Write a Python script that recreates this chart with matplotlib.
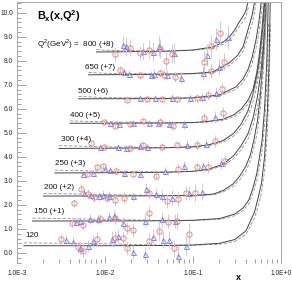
import matplotlib
matplotlib.use("Agg")
import matplotlib.pyplot as plt
import numpy as np
from matplotlib.ticker import FixedLocator, MultipleLocator, FuncFormatter, LogLocator, NullFormatter

# Q2 values and the vertical shift used for each set
q2_values = [120, 150, 200, 250, 300, 400, 500, 650, 800]
offsets = [0, 1, 2, 3, 4, 5, 6, 7, 8]

# theory curves (solid and dashed), B_x without the shift
curve_x = [
    [0.0012, 0.01, 0.05, 0.1, 0.2, 0.3, 0.4, 0.5, 0.55, 0.6, 0.65, 0.7, 0.73, 0.76],
    [0.0015, 0.01, 0.05, 0.1, 0.2, 0.3, 0.37, 0.43, 0.48, 0.53, 0.56, 0.61, 0.65, 0.69, 0.72],
    [0.002, 0.01, 0.05, 0.1, 0.17, 0.22, 0.285, 0.34, 0.4, 0.45, 0.49, 0.54, 0.58, 0.62, 0.66, 0.69],
    [0.0027, 0.01, 0.05, 0.1, 0.15, 0.22, 0.29, 0.35, 0.42, 0.48, 0.54, 0.59, 0.63, 0.66, 0.69],
    [0.003, 0.01, 0.05, 0.1, 0.15, 0.22, 0.29, 0.35, 0.42, 0.48, 0.54, 0.58, 0.62, 0.65, 0.68],
    [0.004, 0.01, 0.05, 0.1, 0.15, 0.22, 0.29, 0.35, 0.42, 0.48, 0.53, 0.56, 0.6, 0.64, 0.66],
    [0.005, 0.01, 0.05, 0.1, 0.2, 0.31, 0.37, 0.42, 0.47, 0.52, 0.56, 0.59, 0.62],
    [0.0065, 0.01, 0.05, 0.1, 0.17, 0.26, 0.32, 0.37, 0.43, 0.47, 0.5, 0.53],
    [0.008, 0.01, 0.05, 0.1, 0.17, 0.22, 0.26, 0.3, 0.33, 0.37, 0.4, 0.43],
]
curve_solid = [
    [0.30, 0.30, 0.31, 0.33, 0.40, 0.56, 0.92, 1.70, 2.30, 2.90, 4.00, 5.90, 7.80, 11.0],
    [0.33, 0.33, 0.34, 0.36, 0.43, 0.62, 0.87, 1.20, 1.70, 2.30, 2.83, 3.70, 5.00, 7.00, 9.80],
    [0.37, 0.37, 0.38, 0.39, 0.45, 0.60, 0.87, 1.20, 1.62, 2.10, 2.67, 3.50, 4.50, 5.90, 7.80, 9.50],
    [0.33, 0.34, 0.36, 0.40, 0.48, 0.70, 1.05, 1.45, 1.95, 2.60, 3.50, 4.50, 5.60, 6.80, 8.20],
    [0.35, 0.36, 0.38, 0.42, 0.50, 0.68, 0.98, 1.35, 1.90, 2.60, 3.50, 4.30, 5.30, 6.30, 7.60],
    [0.40, 0.40, 0.41, 0.43, 0.48, 0.57, 0.75, 0.98, 1.35, 1.80, 2.50, 3.10, 4.10, 5.30, 6.20],
    [0.42, 0.42, 0.43, 0.46, 0.58, 0.92, 1.25, 1.62, 2.15, 2.87, 3.60, 4.30, 5.20],
    [0.42, 0.42, 0.44, 0.47, 0.54, 0.92, 1.22, 1.58, 2.40, 2.90, 3.45, 4.20],
    [0.37, 0.37, 0.40, 0.45, 0.58, 0.78, 1.00, 1.30, 1.58, 1.85, 2.10, 2.60],
]
curve_dash = [
    [0.42, 0.38, 0.32, 0.32, 0.36, 0.48, 0.78, 1.45, 1.95, 2.50, 3.40, 5.00, 6.70, 9.50],
    [0.45, 0.40, 0.35, 0.35, 0.40, 0.55, 0.76, 1.05, 1.48, 2.00, 2.45, 3.25, 4.35, 6.10, 8.60],
    [0.48, 0.43, 0.39, 0.38, 0.42, 0.54, 0.77, 1.05, 1.42, 1.85, 2.35, 3.05, 3.95, 5.20, 6.90, 8.40],
    [0.45, 0.40, 0.37, 0.39, 0.45, 0.63, 0.93, 1.28, 1.72, 2.30, 3.05, 3.95, 4.90, 6.00, 7.30],
    [0.47, 0.42, 0.39, 0.41, 0.47, 0.61, 0.87, 1.19, 1.67, 2.28, 3.05, 3.80, 4.65, 5.55, 6.70],
    [0.50, 0.46, 0.42, 0.42, 0.45, 0.52, 0.67, 0.87, 1.19, 1.58, 2.18, 2.72, 3.60, 4.65, 5.45],
    [0.52, 0.47, 0.44, 0.45, 0.53, 0.82, 1.10, 1.43, 1.89, 2.52, 3.15, 3.78, 4.55],
    [0.52, 0.48, 0.45, 0.46, 0.50, 0.82, 1.08, 1.39, 2.10, 2.55, 3.02, 3.70],
    [0.47, 0.44, 0.41, 0.44, 0.52, 0.69, 0.88, 1.14, 1.39, 1.62, 1.85, 2.28],
]

# measured points, red circles
circ_x = [
    [0.0032, 0.0049, 0.0056, 0.0081, 0.013, 0.016, 0.018, 0.032, 0.041, 0.061, 0.090],
    [0.0042, 0.0056, 0.0088, 0.013, 0.018, 0.021, 0.032, 0.052, 0.066],
    [0.0044, 0.0054, 0.0064, 0.0075, 0.0105, 0.013, 0.0165, 0.032, 0.050, 0.067, 0.083, 0.105],
    [0.0062, 0.0081, 0.0095, 0.0135, 0.021, 0.038, 0.068, 0.112, 0.15, 0.23],
    [0.0070, 0.0098, 0.019, 0.027, 0.045, 0.066, 0.110, 0.180],
    [0.0098, 0.013, 0.019, 0.027, 0.042, 0.060, 0.135, 0.22],
    [0.018, 0.030, 0.044, 0.066, 0.110, 0.150, 0.215],
    [0.0148, 0.025, 0.042, 0.047, 0.062, 0.160, 0.225],
    [0.013, 0.019, 0.025, 0.032, 0.042, 0.049, 0.058, 0.133, 0.160, 0.203],
]
circ_y = [
    [0.58, 0.25, 0.08, 0.58, 0.62, 0.62, 0.21, 0.50, 0.92, 0.20, 0.79],
    [0.25, 0.15, 0.42, 0.45, 0.05, -0.05, 0.67, 0.30, 0.33],
    [0.08, 0.67, 0.45, 0.33, 0.30, 0.20, 0.30, 0.50, 0.17, 0.25, 0.50, 0.50],
    [0.29, 0.58, 0.60, 0.40, 0.30, 0.21, 0.50, 0.58, 0.58, 0.83],
    [0.58, 0.42, 0.35, 0.50, 0.42, 0.50, 0.50, 0.67],
    [0.45, 0.30, 0.35, 0.48, 0.46, 0.29, 0.62, 0.83],
    [0.38, 0.42, 0.42, 0.40, 0.45, 0.58, 0.83],
    [0.62, 0.40, 0.50, 0.42, 0.33, 0.58, 0.96],
    [0.29, 0.54, 0.33, 0.46, 0.50, 0.00, 0.30, -0.04, 0.62, 1.17],
]
circ_err = [
    [0.20, 0.25, 0.25, 0.30, 0.30, 0.30, 0.30, 0.35, 0.40, 0.35, 0.45],
    [0.15, 0.20, 0.20, 0.25, 0.25, 0.30, 0.30, 0.30, 0.35],
    [0.15, 0.20, 0.20, 0.20, 0.20, 0.25, 0.25, 0.25, 0.30, 0.30, 0.30, 0.35],
    [0.10, 0.12, 0.12, 0.15, 0.15, 0.15, 0.20, 0.20, 0.25, 0.25],
    [0.10, 0.10, 0.12, 0.12, 0.15, 0.15, 0.20, 0.25],
    [0.10, 0.10, 0.12, 0.12, 0.15, 0.15, 0.20, 0.25],
    [0.10, 0.12, 0.12, 0.15, 0.15, 0.20, 0.25],
    [0.15, 0.15, 0.15, 0.20, 0.20, 0.30, 0.35],
    [0.30, 0.35, 0.30, 0.40, 0.40, 0.40, 0.40, 0.45, 0.45, 0.50],
]

# measured points, blue triangles
tri_x = [
    [0.0036, 0.0043, 0.0052, 0.0064, 0.0073, 0.012, 0.014, 0.021, 0.0285, 0.035, 0.046, 0.053, 0.068, 0.083],
    [0.0047, 0.0052, 0.0068, 0.0084, 0.0112, 0.0125, 0.016, 0.0285, 0.044, 0.062],
    [0.0057, 0.0069, 0.0085, 0.0095, 0.011, 0.021, 0.029, 0.038, 0.044, 0.058, 0.090, 0.125],
    [0.0056, 0.0073, 0.010, 0.0115, 0.0165, 0.025, 0.048, 0.080, 0.130, 0.21],
    [0.0088, 0.014, 0.0175, 0.025, 0.030, 0.085, 0.140],
    [0.0115, 0.0145, 0.021, 0.032, 0.040, 0.053, 0.080, 0.180],
    [0.025, 0.037, 0.058, 0.092, 0.125, 0.182],
    [0.0163, 0.0185, 0.033, 0.036, 0.050, 0.073, 0.130, 0.200],
    [0.016, 0.0175, 0.027, 0.035, 0.041, 0.061, 0.144, 0.183, 0.250],
]
tri_y = [
    [0.55, 0.45, 0.20, 0.30, 0.50, 0.60, 0.70, 0.05, -0.05, 0.65, 0.55, 0.55, -0.12, 0.30],
    [0.30, 0.35, 0.40, 0.42, 0.50, 0.55, 0.25, 0.35, 0.40, 0.33],
    [0.50, 0.40, 0.35, 0.40, 0.38, 0.35, 0.65, 0.45, 0.37, 0.30, 0.50, 0.55],
    [0.30, 0.33, 0.50, 0.45, 0.33, 0.29, 0.42, 0.62, 0.60, 0.75],
    [0.40, 0.40, 0.38, 0.45, 0.40, 0.50, 0.55],
    [0.40, 0.38, 0.42, 0.40, 0.40, 0.38, 0.35, 0.67],
    [0.45, 0.45, 0.45, 0.45, 0.48, 0.67],
    [0.55, 0.45, 0.42, 0.45, 0.40, 0.30, 0.50, 0.75],
    [0.67, 0.60, 0.40, 0.38, 0.62, 0.33, 0.25, 0.92, 1.00],
]
tri_err = [
    [0.20, 0.20, 0.25, 0.25, 0.25, 0.30, 0.30, 0.30, 0.30, 0.35, 0.35, 0.35, 0.40, 0.40],
    [0.15, 0.15, 0.20, 0.20, 0.20, 0.25, 0.25, 0.25, 0.30, 0.30],
    [0.15, 0.15, 0.20, 0.20, 0.20, 0.20, 0.25, 0.25, 0.25, 0.30, 0.30, 0.35],
    [0.10, 0.10, 0.12, 0.12, 0.15, 0.15, 0.15, 0.20, 0.20, 0.25],
    [0.10, 0.12, 0.12, 0.15, 0.15, 0.20, 0.20],
    [0.10, 0.10, 0.12, 0.12, 0.15, 0.15, 0.20, 0.25],
    [0.12, 0.12, 0.15, 0.15, 0.20, 0.25],
    [0.15, 0.15, 0.15, 0.20, 0.20, 0.25, 0.30, 0.35],
    [0.35, 0.40, 0.35, 0.40, 0.40, 0.40, 0.45, 0.45, 0.50],
]

# where each Q2 label starts
label_x = [0.00125, 0.00155, 0.00205, 0.0027, 0.0032, 0.0040, 0.0049, 0.0060, 0.0078]

plt.rcParams["font.family"] = ["Liberation Sans", "DejaVu Sans"]
plt.rcParams["mathtext.fontset"] = "custom"
plt.rcParams["mathtext.rm"] = "Liberation Sans"
plt.rcParams["mathtext.bf"] = "Liberation Sans:bold"

fig = plt.figure(figsize=(2.92, 2.82), dpi=100)
ax = fig.add_axes([17 / 292, 19 / 282, 264 / 292, 261 / 282])

red = "#f07470"
blue = "#7474f2"
err_col = "#cdcdcd"

for i, off in enumerate(offsets):
    cx = np.array(curve_x[i])
    ax.plot(cx, np.array(curve_dash[i]) + off, color="#909090", lw=0.6, ls=(0, (4, 2)))
    ax.plot(cx, np.array(curve_solid[i]) + off, color="#444444", lw=0.7)

    ax.errorbar(circ_x[i], np.array(circ_y[i]) + off, yerr=circ_err[i], fmt="none",
                ecolor=err_col, elinewidth=0.7, zorder=2)
    ax.errorbar(tri_x[i], np.array(tri_y[i]) + off, yerr=tri_err[i], fmt="none",
                ecolor=err_col, elinewidth=0.7, zorder=2)
    ax.plot(tri_x[i], np.array(tri_y[i]) + off, ls="none", marker="^", ms=3.6,
            mfc="none", mec=blue, mew=0.6, zorder=3)
    ax.plot(circ_x[i], np.array(circ_y[i]) + off, ls="none", marker="o", ms=3.8,
            mfc="none", mec=red, mew=0.6, zorder=3)

    if q2_values[i] == 800:
        continue
    if off == 0:
        txt = str(q2_values[i])
    else:
        txt = f"{q2_values[i]} (+{off})"
    ax.text(label_x[i], off + 0.72, txt, fontsize=5.8, ha="left", va="center", color="#111111")

ax.text(0.0017, 8.72, r"Q$^2$(GeV$^2$) =  800 (+8)", fontsize=5.8, ha="left", va="center",
        color="#111111")
ax.text(0.0017, 9.85, r"B$_\mathbf{x}$(x,Q$^\mathbf{2}$)", fontsize=7.8, fontweight="bold",
        ha="left", va="center")

ax.set_xscale("log")
ax.set_xlim(1e-3, 1.0)
ax.set_ylim(-0.42, 10.45)

ax.xaxis.set_major_locator(FixedLocator([1e-3, 1e-2, 1e-1, 1.0]))
ax.xaxis.set_minor_locator(LogLocator(base=10, subs=np.arange(2, 10)))
ax.xaxis.set_minor_formatter(NullFormatter())
ax.xaxis.set_major_formatter(FuncFormatter(lambda v, p: f"1.0E{int(round(np.log10(v))):+d}"))
ax.yaxis.set_major_locator(MultipleLocator(1.0))
ax.yaxis.set_minor_locator(MultipleLocator(0.2))
ax.yaxis.set_major_formatter(FuncFormatter(lambda v, p: f"{v:.1f}"))

ax.tick_params(axis="both", which="both", direction="in", colors="#909090",
               labelcolor="#222222", labelsize=4.8, width=0.6)
ax.tick_params(axis="y", which="major", length=6.5, pad=3)
ax.tick_params(axis="y", which="minor", length=3)
ax.tick_params(axis="x", which="major", length=5, pad=5)
ax.tick_params(axis="x", which="minor", length=3)

for side in ["left", "right", "top"]:
    ax.spines[side].set_color("#a8a8a8")
    ax.spines[side].set_linewidth(0.7)
ax.spines["bottom"].set_visible(False)

ax.text(0.837, -0.04, "x", transform=ax.transAxes, fontsize=6.5, fontweight="bold",
        ha="center", va="top")

fig.savefig("out.png", dpi=100)
